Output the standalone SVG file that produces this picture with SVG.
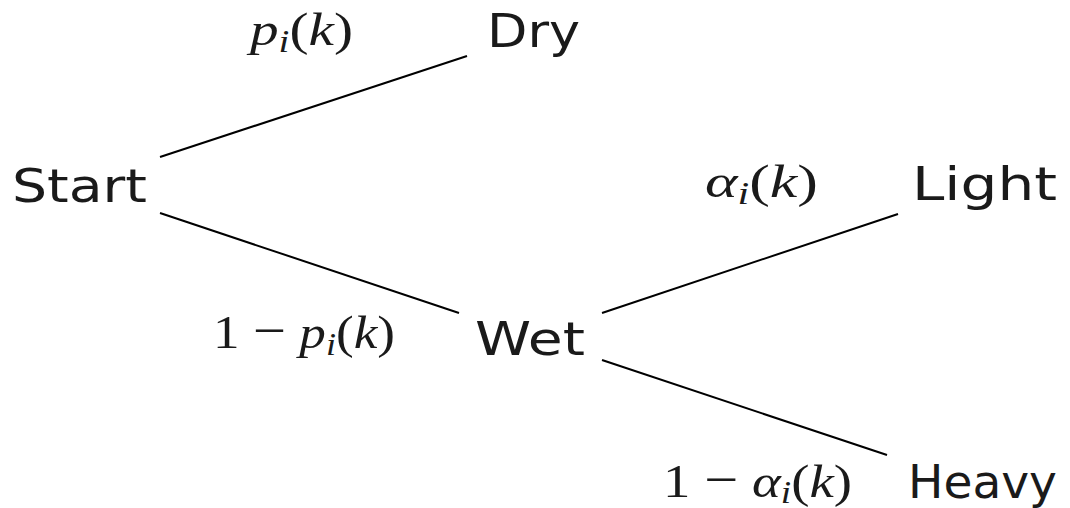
<svg xmlns="http://www.w3.org/2000/svg" width="1070" height="508" viewBox="0 0 1070 508">
<style>
.n{font-family:"DejaVu Sans","Liberation Sans",sans-serif;font-size:47px;fill:#1a1a1a}
.m{font-family:"Liberation Serif","DejaVu Serif",serif;font-size:47px;fill:#1a1a1a}
.it{font-style:italic}
.sub{font-style:italic;font-size:32px}
.e{stroke:#000;stroke-width:2;fill:none}
</style>
<rect width="1070" height="508" fill="#fff"/>
<g id="connectors">
<line class="e" x1="160" y1="157" x2="467" y2="56"/>
<line class="e" x1="160" y1="213" x2="459" y2="313"/>
<line class="e" x1="602" y1="313" x2="898" y2="214"/>
<line class="e" x1="602" y1="360" x2="887" y2="455"/>
</g>
<g id="node-start"><text class="n" x="12" y="202" textLength="135" lengthAdjust="spacingAndGlyphs">Start</text></g>
<g id="node-dry"><text class="n" x="487" y="47" textLength="93" lengthAdjust="spacingAndGlyphs">Dry</text></g>
<g id="node-wet"><text class="n" x="475" y="355" textLength="110" lengthAdjust="spacingAndGlyphs">Wet</text></g>
<g id="node-light"><text class="n" x="912" y="200" textLength="145" lengthAdjust="spacingAndGlyphs">Light</text></g>
<g id="node-heavy"><text class="n" x="908" y="498" textLength="149" lengthAdjust="spacingAndGlyphs">Heavy</text></g>
<g id="labels">
<text class="m" x="250" y="45" textLength="103" lengthAdjust="spacingAndGlyphs"><tspan class="it">p</tspan><tspan class="sub" dy="7">i</tspan><tspan dy="-7">(</tspan><tspan class="it">k</tspan>)</text>
<text class="m" x="213" y="348" textLength="182" lengthAdjust="spacingAndGlyphs">1 <tspan font-size="52">−</tspan> <tspan class="it">p</tspan><tspan class="sub" dy="7">i</tspan><tspan dy="-7">(</tspan><tspan class="it">k</tspan>)</text>
<text class="m" x="705" y="197" textLength="113" lengthAdjust="spacingAndGlyphs"><tspan class="it">α</tspan><tspan class="sub" dy="7">i</tspan><tspan dy="-7">(</tspan><tspan class="it">k</tspan>)</text>
<text class="m" x="663" y="497" textLength="189" lengthAdjust="spacingAndGlyphs">1 <tspan font-size="52">−</tspan> <tspan class="it">α</tspan><tspan class="sub" dy="6">i</tspan><tspan dy="-6">(</tspan><tspan class="it">k</tspan>)</text>
</g>
</svg>
